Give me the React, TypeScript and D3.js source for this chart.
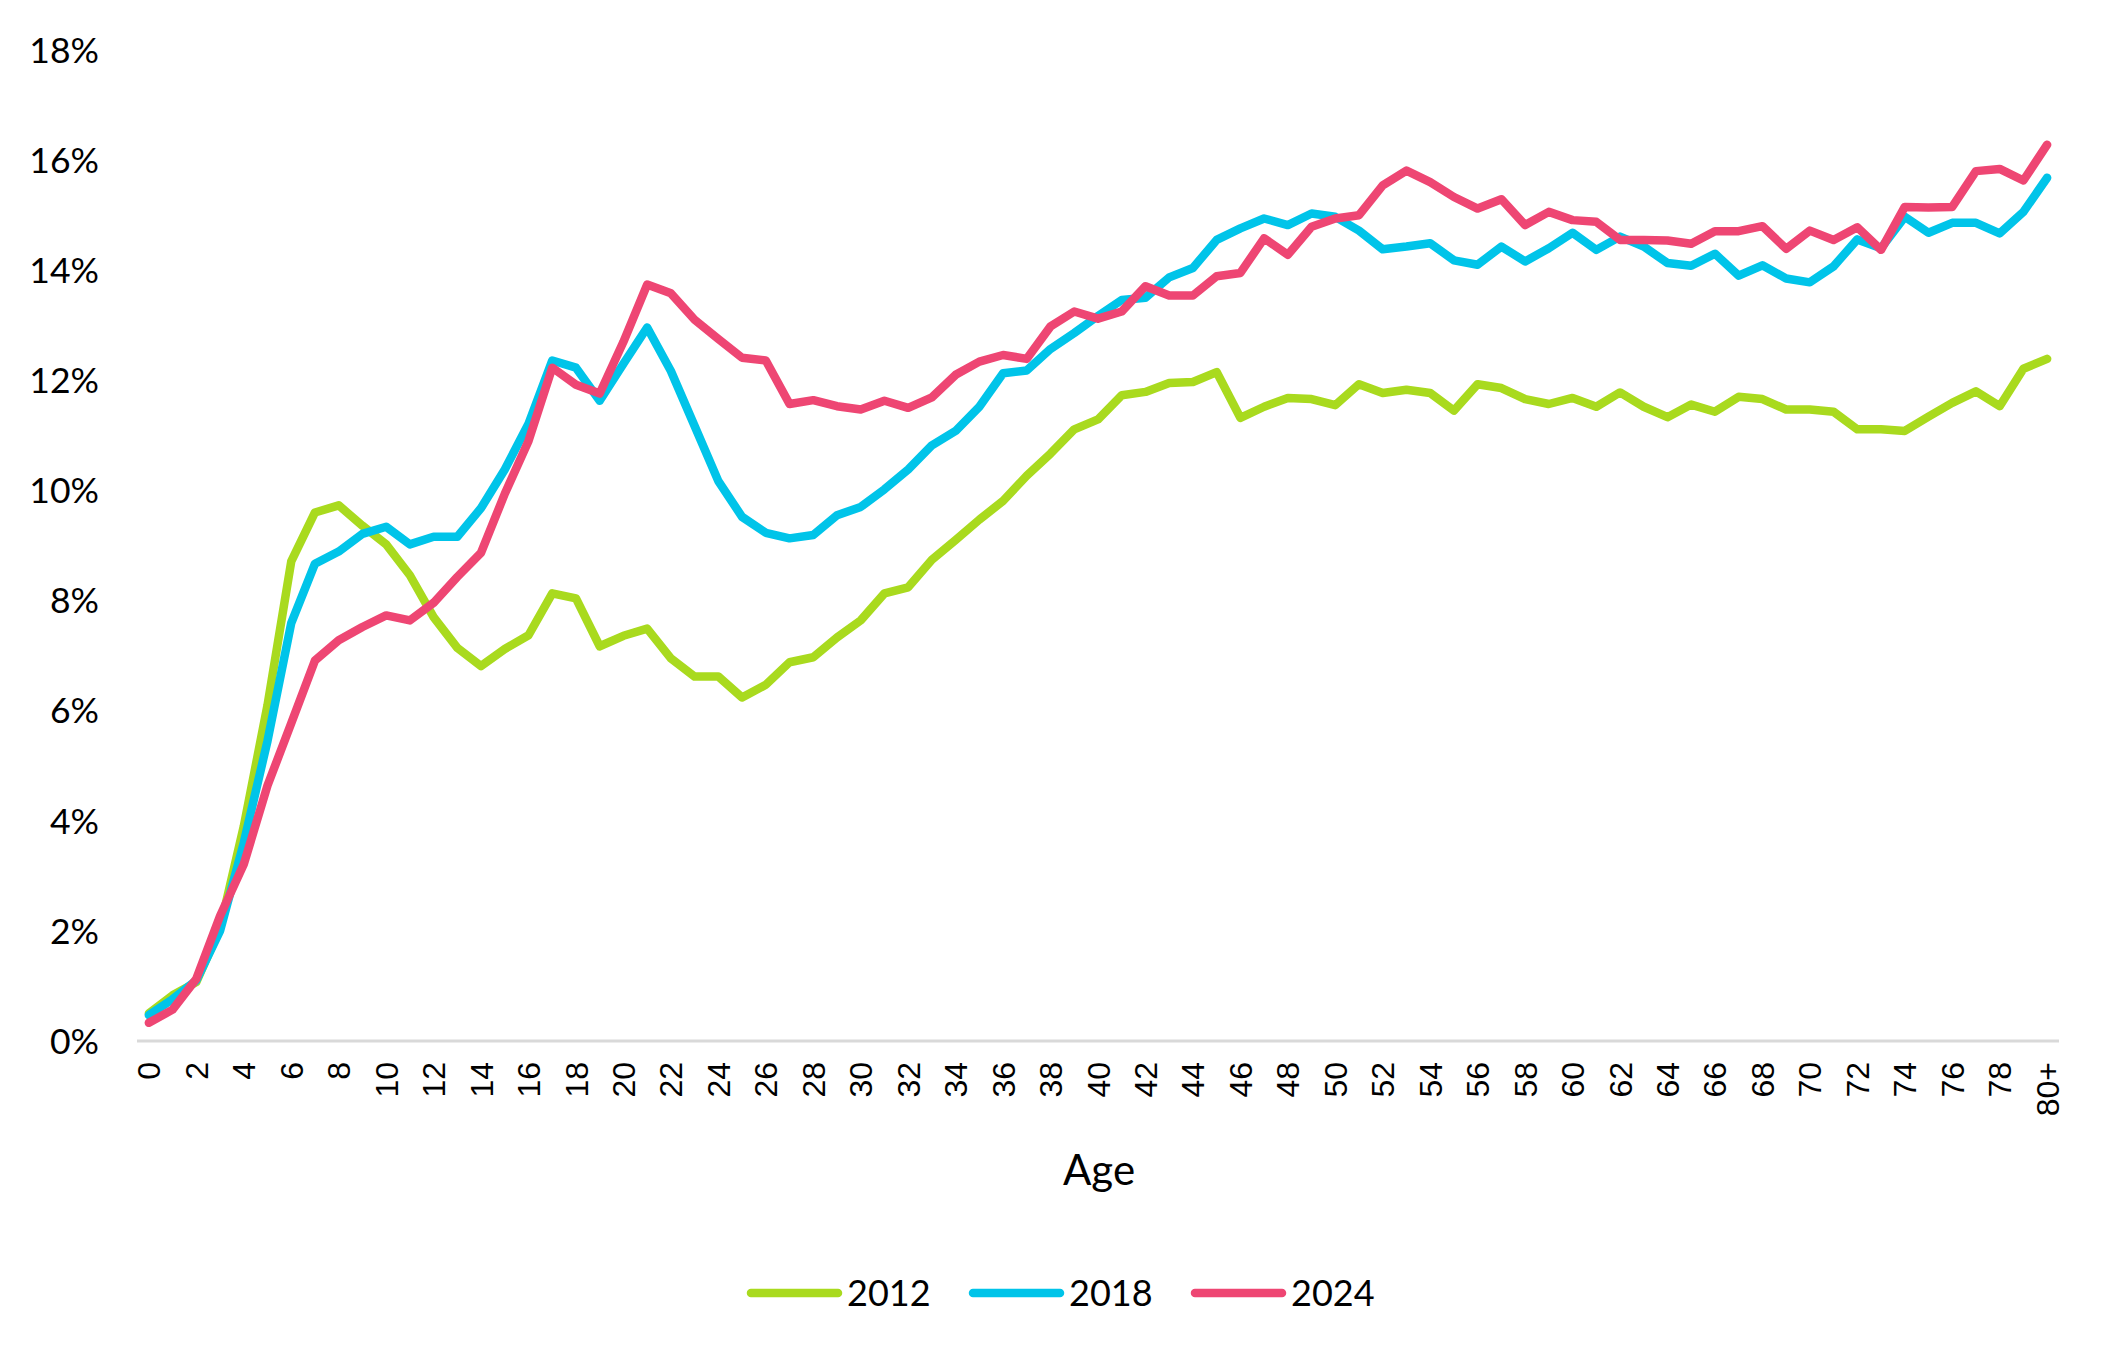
import React from "react";
import * as d3 from "d3";

const ages: string[] = [...Array.from({ length: 80 }, (_, i) => String(i)), "80+"];

const series2012 = [
  0.50, 0.83, 1.07, 2.05, 3.9, 6.1, 8.71, 9.60, 9.73, 9.36,
  9.02, 8.46, 7.70, 7.14, 6.81, 7.12, 7.37, 8.13, 8.04, 7.17,
  7.36, 7.49, 6.95, 6.62, 6.62, 6.24, 6.47, 6.88, 6.97, 7.33,
  7.64, 8.13, 8.24, 8.74, 9.10, 9.47, 9.81, 10.27, 10.67, 11.11,
  11.29, 11.73, 11.79, 11.95, 11.97, 12.15, 11.32, 11.52, 11.68, 11.66,
  11.55, 11.93, 11.77, 11.83, 11.77, 11.45, 11.93, 11.86, 11.66, 11.57,
  11.68, 11.52, 11.78, 11.52, 11.33, 11.56, 11.43, 11.70, 11.66, 11.47,
  11.47, 11.43, 11.11, 11.11, 11.08, 11.34, 11.59, 11.80, 11.53, 12.21,
  12.39,
];

const series2018 = [
  0.47, 0.76, 1.10, 2.0, 3.6, 5.45, 7.59, 8.67, 8.89, 9.21,
  9.34, 9.02, 9.16, 9.16, 9.68, 10.38, 11.21, 12.36, 12.23, 11.63,
  12.30, 12.96, 12.17, 11.17, 10.17, 9.52, 9.23, 9.13, 9.19, 9.55,
  9.70, 10.02, 10.38, 10.82, 11.08, 11.52, 12.13, 12.18, 12.57, 12.86,
  13.17, 13.46, 13.50, 13.87, 14.04, 14.55, 14.76, 14.94, 14.82, 15.03,
  14.97, 14.72, 14.38, 14.43, 14.49, 14.18, 14.10, 14.43, 14.16, 14.40,
  14.68, 14.37, 14.61, 14.43, 14.13, 14.08, 14.30, 13.90, 14.09, 13.85,
  13.78, 14.07, 14.56, 14.40, 14.97, 14.68, 14.86, 14.86, 14.67, 15.06,
  15.68,
];

const series2024 = [
  0.33, 0.57, 1.13, 2.27, 3.21, 4.64, 5.77, 6.91, 7.28, 7.52,
  7.73, 7.64, 7.96, 8.43, 8.87, 9.94, 10.90, 12.23, 11.92, 11.76,
  12.70, 13.74, 13.58, 13.10, 12.75, 12.41, 12.36, 11.57, 11.64, 11.53,
  11.47, 11.63, 11.50, 11.69, 12.10, 12.34, 12.46, 12.39, 12.98, 13.25,
  13.12, 13.25, 13.71, 13.54, 13.54, 13.89, 13.95, 14.58, 14.28, 14.79,
  14.94, 15.00, 15.54, 15.81, 15.60, 15.33, 15.12, 15.29, 14.82, 15.06,
  14.91, 14.88, 14.55, 14.55, 14.54, 14.48, 14.71, 14.71, 14.80, 14.39,
  14.72, 14.55, 14.78, 14.37, 15.15, 15.14, 15.15, 15.80, 15.84, 15.63,
  16.28,
];

const seriesNames = ["2012", "2018", "2024"];
const seriesColors = ["#A9DA1E", "#00C4E9", "#EE4673"];
const seriesData = [series2012, series2018, series2024];
const yTicks = [0, 2, 4, 6, 8, 10, 12, 14, 16, 18];
const xTickLabels = ages.filter((_, i) => i % 2 === 0);
const xTitle = "Age";

const W = 2109;
const H = 1359;

export default function App() {
  const x = d3.scaleBand<string>().domain(ages).range([137, 2059]).padding(0);
  const y = d3.scaleLinear().domain([0, 18]).range([1041, 50]);
  const cx = (a: string) => (x(a) as number) + x.bandwidth() / 2;

  const line = d3
    .line<number>()
    .x((_, i) => cx(ages[i]))
    .y((d) => y(d));

  const legendStart = 747;
  const legendStep = 222;

  return (
    <svg
      width={W}
      height={H}
      viewBox={`0 0 ${W} ${H}`}
      style={{ position: "absolute", left: 0, top: 0, background: "#fff" }}
    >
      <rect x={0} y={0} width={W} height={H} fill="#fff" />
      {yTicks.map((t) => (
        <text
          key={t}
          x={99}
          y={y(t)}
          dy="0.36em"
          textAnchor="end"
          fontFamily="Lato, 'Noto Sans', sans-serif"
          fontSize={35.5}
          fill="#000"
        >
          {t}%
        </text>
      ))}
      <line x1={137} x2={2059} y1={y(0)} y2={y(0)} stroke="#D9D9D9" strokeWidth={3} />
      {xTickLabels.map((a) => (
        <text
          key={a}
          transform={`translate(${cx(a)},1062) rotate(-90)`}
          dy="0.36em"
          textAnchor="end"
          fontFamily="'Liberation Sans', Arial, sans-serif"
          fontSize={32}
          fill="#000"
        >
          {a}
        </text>
      ))}
      <text
        x={1099}
        y={1185}
        textAnchor="middle"
        fontFamily="Lato, 'Noto Sans', sans-serif"
        fontSize={42}
        fill="#000"
      >
        {xTitle}
      </text>
      {seriesData.map((s, k) => (
        <path
          key={seriesNames[k]}
          d={line(s) || ""}
          fill="none"
          stroke={seriesColors[k]}
          strokeWidth={8.5}
          strokeLinejoin="round"
          strokeLinecap="round"
        />
      ))}
      {seriesNames.map((n, k) => {
        const x0 = legendStart + k * legendStep;
        return (
          <g key={n}>
            <line
              x1={x0 + 4}
              x2={x0 + 91}
              y1={1293}
              y2={1293}
              stroke={seriesColors[k]}
              strokeWidth={8.5}
              strokeLinecap="round"
            />
            <text
              x={x0 + 100}
              y={1306}
              fontFamily="Lato, 'Noto Sans', sans-serif"
              fontSize={36}
              fill="#000"
            >
              {n}
            </text>
          </g>
        );
      })}
    </svg>
  );
}
